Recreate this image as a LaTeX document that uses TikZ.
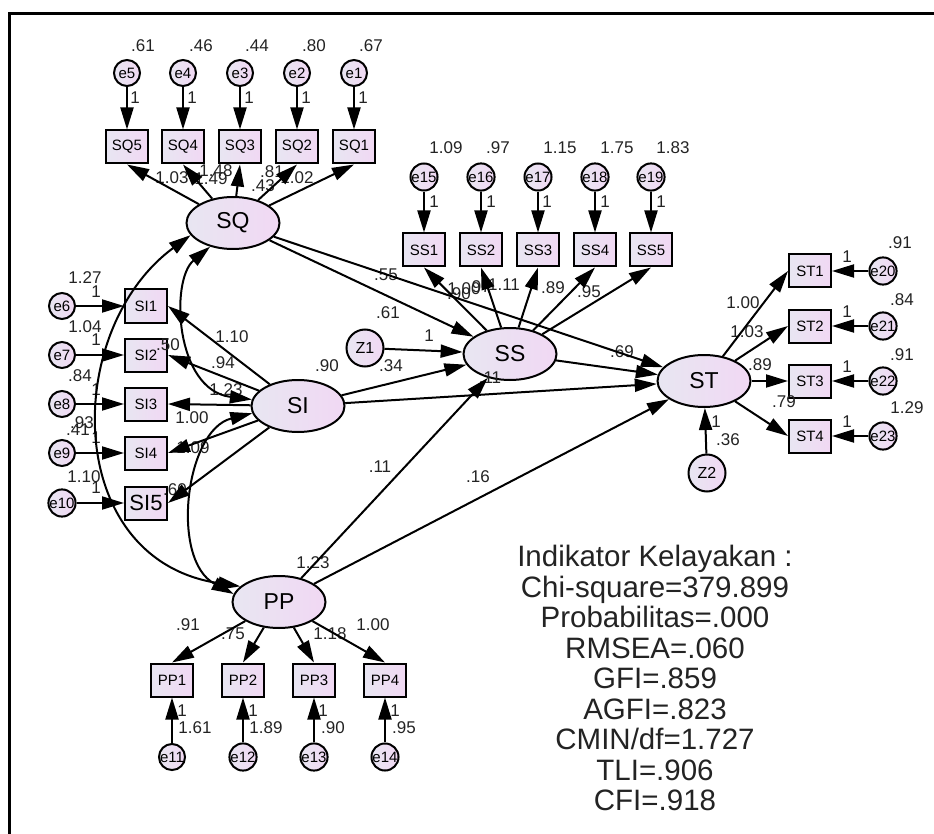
\documentclass[tikz,border=0pt]{standalone}
\usepackage{fontspec}
\setmainfont{Liberation Sans}
\usetikzlibrary{arrows.meta,shapes.geometric}
\definecolor{fillL}{RGB}{232,230,242}
\definecolor{fillR}{RGB}{241,216,243}
\definecolor{txt}{RGB}{35,35,35}
\tikzset{
  obs/.style={draw, line width=2pt, left color=fillL, right color=fillR, minimum width=42pt, minimum height=33pt, inner sep=0pt, font=\fontsize{15}{15}\selectfont},
  lat/.style={ellipse, draw, line width=2pt, left color=fillL, right color=fillR, minimum width=93pt, minimum height=52pt, inner sep=0pt, font=\fontsize{23}{23}\selectfont},
  err/.style={circle, draw, line width=2pt, left color=fillL, right color=fillR, minimum size=26pt, inner sep=0pt, font=\fontsize{15}{15}\selectfont},
  dist/.style={circle, draw, line width=2pt, left color=fillL, right color=fillR, minimum size=37pt, inner sep=0pt, font=\fontsize{16}{16}\selectfont},
  lab/.style={inner sep=0pt, font=\fontsize{17}{17}\selectfont, text=txt},
  arr/.style={-{Triangle[length=22pt,width=13pt]}, line width=2pt},
  cov/.style={{Triangle[length=22pt,width=13pt]}-{Triangle[length=22pt,width=13pt]}, line width=2pt},
  frame/.style={line width=3pt},
  fittext/.style={font=\fontsize{29.5}{30.5}\selectfont, align=center, text=txt, inner sep=0pt}
}
\begin{document}
\begin{tikzpicture}[x=1pt,y=-1pt]
\useasboundingbox (0,0) rectangle (934,834);
\draw[frame] (934,14) -- (9,14) -- (9,834);

% latent variables
\node[lat] (SQ) at (233,223) {SQ};
\node[lat] (SI) at (298,406) {SI};
\node[lat] (SS) at (510,354) {SS};
\node[lat] (ST) at (704,381) {ST};
\node[lat] (PP) at (279,602) {PP};
\node[dist] (Z1) at (365,348) {Z1};
\node[dist] (Z2) at (707,473) {Z2};

% SQ indicators
\foreach \i/\x in {5/127,4/183,3/240,2/297,1/354}{
  \node[obs] (SQ\i) at (\x,147) {SQ\i};
  \node[err] (e\i) at (\x,73) {e\i};
}
% SS indicators
\foreach \i/\e/\x in {1/15/424,2/16/481,3/17/538,4/18/595,5/19/651}{
  \node[obs] (SS\i) at (\x,250) {SS\i};
  \node[err] (e\e) at (\x,177) {e\e};
}
% SI indicators
\foreach \i/\e/\y in {1/6/306,2/7/355,3/8/404,4/9/453}{
  \node[obs] (SI\i) at (146,\y) {SI\i};
  \node[err] (e\e) at (62,\y) {e\e};
}
\node[obs, font=\fontsize{22}{22}\selectfont] (SI5) at (146,503) {SI5};
\node[err] (e10) at (62,503) {e10};
% PP indicators
\foreach \i/\e/\x in {1/11/172,2/12/243,3/13/314,4/14/385}{
  \node[obs] (PP\i) at (\x,680) {PP\i};
  \node[err] (e\e) at (\x,757) {e\e};
}
% ST indicators
\foreach \i/\e/\y in {1/20/271,2/21/326,3/22/381,4/23/436}{
  \node[obs] (ST\i) at (810,\y) {ST\i};
  \node[err] (e\e) at (883,\y) {e\e};
}

% labels
\foreach \x/\y/\t [count=\n] in {
  143/46/.61, 201/46/.46, 257/46/.44, 314/46/.80, 371/46/.67,
  135/98/1, 192/98/1, 249/98/1, 306/98/1, 363/98/1,
  172/178/1.03, 216/171/1.48, 211/179/1.49, 272/172/.81, 297/178/1.02, 263/186/.43,
  446/148/1.09, 498/148/.97, 560/148/1.15, 617/148/1.75, 673/148/1.83,
  434/202/1, 491/202/1, 547/202/1, 605/202/1, 661/202/1,
  459/294/.90, 464/289/1.00, 479/287/.97, 504/285/1.11, 553/288/.89, 589/292/.95,
  386/275/.55, 388/313/.61, 429/336/1, 391/366/.34, 490/378/.11, 622/352/.69,
  327/366/.90, 380/467/.11, 478/477/.16, 313/563/1.23,
  85/278/1.27, 96/292/1, 85/327/1.04, 96/340/1, 80/376/.84, 96/390/1,
  82/423/.93, 78/430/.41, 96/438/1, 84/477/1.10, 96/488/1,
  232/337/1.10, 168/345/.50, 223/363/.94, 226/390/1.23, 192/418/1.00, 193/448/1.09, 175/490/.60,
  188/625/.91, 233/634/.75, 330/634/1.18, 373/625/1.00,
  182/711/1, 253/711/1, 323/711/1, 395/711/1,
  195/728/1.61, 266/728/1.89, 333/728/.90, 404/728/.95,
  900/243/.91, 902/300/.84, 902/355/.91, 907/408/1.29,
  847/257/1, 847/312/1, 847/367/1, 847/422/1,
  743/303/1.00, 747/332/1.03, 760/365/.89, 784/402/.79,
  716/422/1, 728/440/.36}{
  \node[lab] (L\n) at (\x,\y) {\t};
}

% measurement arrows
\foreach \i in {1,...,5}{
  \draw[arr] (SQ) -- (SQ\i.south);
  \draw[arr] (e\i) -- (SQ\i);
}
\foreach \i/\e in {1/15,2/16,3/17,4/18,5/19}{
  \draw[arr] (SS) -- (SS\i.south);
  \draw[arr] (e\e) -- (SS\i);
}
\foreach \i/\e in {1/6,2/7,3/8,4/9,5/10}{
  \draw[arr] (SI) -- (SI\i.east);
  \draw[arr] (e\e) -- (SI\i);
}
\foreach \i/\e in {1/11,2/12,3/13,4/14}{
  \draw[arr] (PP) -- (PP\i.north);
  \draw[arr] (e\e) -- (PP\i);
}
\foreach \i/\e in {1/20,2/21,3/22,4/23}{
  \draw[arr] (ST) -- (ST\i.west);
  \draw[arr] (e\e) -- (ST\i);
}

% structural arrows
\draw[arr] (SQ) -- (SS);
\draw[arr] (SQ) -- (ST);
\draw[arr] (SI) -- (SS);
\draw[arr] (SI) -- (ST);
\draw[arr] (PP) -- (SS);
\draw[arr] (PP) -- (ST);
\draw[arr] (SS) -- (ST);
\draw[arr] (Z1) -- (SS);
\draw[arr] (Z2) -- (ST);

% covariances
\draw[cov] (SQ.196) .. controls (62,330) and (62,560) .. (PP.158);
\draw[cov] (SQ.226) .. controls (170,280) and (175,390) .. (SI.172);
\draw[cov] (SI.189) .. controls (185,430) and (170,560) .. (PP.170);

% fit indices
\node[fittext] (fit) at (655,678) {Indikator Kelayakan :\\Chi-square=379.899\\Probabilitas=.000\\RMSEA=.060\\GFI=.859\\AGFI=.823\\CMIN/df=1.727\\TLI=.906\\CFI=.918};
\end{tikzpicture}
\end{document}
